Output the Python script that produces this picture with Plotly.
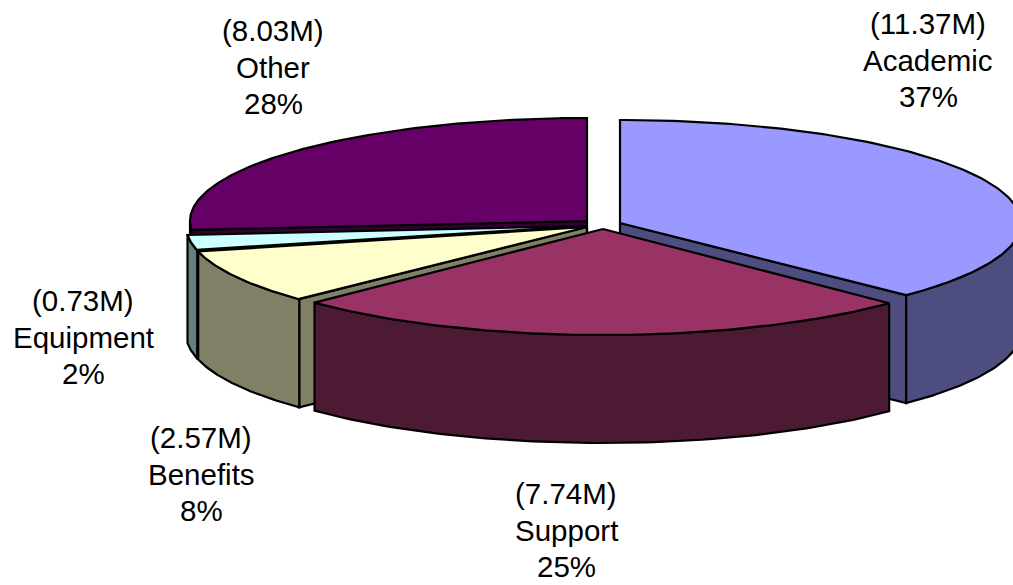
import numpy as np
import plotly.graph_objects as go

categories = ["Academic", "Support", "Benefits", "Equipment", "Other"]
values_m = [11.37, 7.74, 2.57, 0.73, 8.03]
percent_labels = [37, 25, 8, 2, 28]

top_colors = ["#9999FF", "#993366", "#FFFFCC", "#CCFFFF", "#660066"]
side_colors = ["#4D4D80", "#4D1A33", "#808066", "#668080", "#330033"]
centers = [(620, 223), (603, 229), (587, 227), (586, 226), (587, 221)]
radii = [(401, 103), (401, 106), (400, 104), (400, 104), (397, 103)]
label_pos = [(928, 60), (566, 530), (201, 474), (83, 337), (273, 67)]
DEPTH = 108
LINE_GAP = 36.5
draw_order = [4, 3, 2, 0, 1]

total = sum(values_m)
edges = np.concatenate([[0], np.cumsum(values_m)]) / total * 2 * np.pi


def rim(i, a):
    cx, cy = centers[i]
    rx, ry = radii[i]
    return cx + rx * np.sin(a), cy - ry * np.cos(a)


fig = go.Figure()


def poly(xs, ys, color):
    fig.add_trace(go.Scatter(
        x=list(xs), y=list(ys), mode="lines", fill="toself", fillcolor=color,
        line=dict(color="black", width=2.2), hoverinfo="skip", showlegend=False))


for i in draw_order:
    a0, a1 = edges[i], edges[i + 1]
    cx, cy = centers[i]
    # cut faces that look toward the viewer
    visible = []
    if np.pi < a0 < 2 * np.pi:
        visible.append(a0)
    if 0 < a1 < np.pi:
        visible.append(a1)
    for a in visible:
        ex, ey = rim(i, a)
        poly([cx, ex, ex, cx, cx], [cy, ey, ey + DEPTH, cy + DEPTH, cy], side_colors[i])
    # outer wall (front half only)
    w0, w1 = max(a0, np.pi / 2), min(a1, 3 * np.pi / 2)
    if w1 > w0:
        t = np.linspace(w0, w1, 80)
        xs, ys = rim(i, t)
        poly(np.r_[xs, xs[::-1], xs[0]], np.r_[ys, ys[::-1] + DEPTH, ys[0]], side_colors[i])
    # top
    t = np.linspace(a0, a1, 160)
    xs, ys = rim(i, t)
    poly(np.r_[cx, xs, cx], np.r_[cy, ys, cy], top_colors[i])

for i, name in enumerate(categories):
    lines = [f"({values_m[i]:.2f}M)", name, f"{percent_labels[i]}%"]
    for k, line in enumerate(lines):
        fig.add_annotation(
            x=label_pos[i][0], y=label_pos[i][1] + (k - 1) * LINE_GAP, xref="x", yref="y",
            text=line, showarrow=False, xanchor="center", yanchor="middle", align="center",
            font=dict(family="Liberation Sans, Arial, sans-serif", size=29.5, color="black"))

fig.update_layout(
    width=1013, height=585, margin=dict(l=0, r=0, t=0, b=0),
    paper_bgcolor="white", plot_bgcolor="white", showlegend=False,
    xaxis=dict(range=[0, 1013], visible=False, fixedrange=True),
    yaxis=dict(range=[585, 0], visible=False, fixedrange=True),
)
fig.write_html("out.html", config={"displayModeBar": False},
               post_script="document.body.style.margin='0';document.documentElement.style.overflow='hidden';")
